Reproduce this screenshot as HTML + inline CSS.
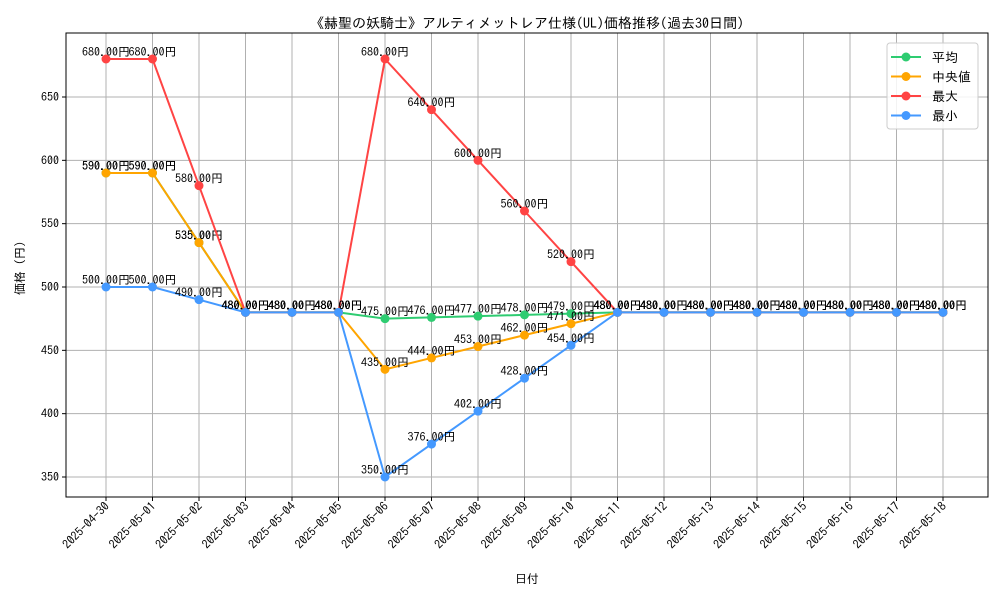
<!DOCTYPE html>
<html><head><meta charset="utf-8"><style>
body{margin:0;background:#fff}
svg{font-family:"IPAGothic","Liberation Sans","Noto Sans CJK JP",sans-serif}
</style></head><body>
<svg id="c" width="1000" height="600" xmlns="http://www.w3.org/2000/svg"></svg>
<script>
const dates=["2025-04-30","2025-05-01","2025-05-02","2025-05-03","2025-05-04","2025-05-05","2025-05-06","2025-05-07","2025-05-08","2025-05-09","2025-05-10","2025-05-11","2025-05-12","2025-05-13","2025-05-14","2025-05-15","2025-05-16","2025-05-17","2025-05-18"];
const avgVals=[590,590,535,480,480,480,475,476,477,478,479,480,480,480,480,480,480,480,480];
const medVals=[590,590,535,480,480,480,435,444,453,462,471,480,480,480,480,480,480,480,480];
const maxVals=[680,680,580,480,480,480,680,640,600,560,520,480,480,480,480,480,480,480,480];
const minVals=[500,500,490,480,480,480,350,376,402,428,454,480,480,480,480,480,480,480,480];
const yTicks=[350,400,450,500,550,600,650];
const NS="http://www.w3.org/2000/svg";
const svg=document.getElementById('c');
const L=66,R=988,T=33,B=497;
const x=i=>106+i*(943-106)/(dates.length-1);
const y=v=>477-(v-350)*(380/300);
function el(tag,a,p){const e=document.createElementNS(NS,tag);for(const k in a)e.setAttribute(k,a[k]);(p||svg).appendChild(e);return e;}
// grid
dates.forEach((d,i)=>{const g=el('line',{x1:x(i),x2:x(i),y1:T,y2:B,stroke:'#b0b0b0','stroke-width':1});
});
yTicks.forEach(v=>{const g=el('line',{x1:L,x2:R,y1:y(v),y2:y(v),stroke:'#b0b0b0','stroke-width':1});

const t=el('line',{x1:L-4,x2:L,y1:y(v),y2:y(v),stroke:'#000'});
const tx=el('text',{x:L-7,y:y(v)+4,'text-anchor':'end','font-size':12});tx.textContent=v;
});
dates.forEach((d,i)=>{el('line',{x1:x(i),x2:x(i),y1:B,y2:B+4,stroke:'#000'});
const tx=el('text',{x:x(i)+4,y:B+10,'text-anchor':'end','font-size':12,transform:`rotate(-45 ${x(i)+4} ${B+10})`});tx.textContent=d;
});
const frame=el('rect',{x:L,y:T,width:R-L,height:B-T,fill:'none',stroke:'#000','stroke-width':1});

const series=[["avg",avgVals,"#2ecc71"],["median",medVals,"#ffa500"],["max",maxVals,"#ff4444"],["min",minVals,"#4499ff"]];
series.forEach(([n,vals,c])=>{
const g=el('g',{});
const pl=el('polyline',{points:vals.map((v,i)=>x(i)+','+y(v)).join(' '),fill:'none',stroke:c,'stroke-width':2},g);

vals.forEach((v,i)=>{const p=el('circle',{cx:x(i),cy:y(v),r:4.5,fill:c},g);
});
vals.forEach((v,i)=>{const t=el('text',{x:x(i),y:y(v)-3,'text-anchor':'middle','font-size':12},g);t.textContent=v.toFixed(2)+'円';
});
});
const title=el('text',{x:527,y:28,'text-anchor':'middle','font-size':14});title.textContent='《赫聖の妖騎士》アルティメットレア仕様(UL)価格推移(過去30日間)';

const xt=el('text',{x:527,y:583,'text-anchor':'middle','font-size':12});xt.textContent='日付';

const yt=el('text',{x:24,y:265,'text-anchor':'middle','font-size':12,transform:'rotate(-90 24 265)'});yt.textContent='価格（円）';

const lg=el('g',{});
el('rect',{x:887,y:43,width:91,height:86,rx:3,fill:'#fff','fill-opacity':0.85,stroke:'#ccc'},lg);
[["平均","#2ecc71"],["中央値","#ffa500"],["最大","#ff4444"],["最小","#4499ff"]].forEach(([n,c],i)=>{
const yy=57+i*19.5;
const e=el('g',{},lg);
el('line',{x1:891,x2:921,y1:yy,y2:yy,stroke:c,'stroke-width':2},e);
el('circle',{cx:906,cy:yy,r:4.5,fill:c},e);
const t=el('text',{x:932,y:yy+5,'font-size':13},e);t.textContent=n;});
</script>
</body></html>
